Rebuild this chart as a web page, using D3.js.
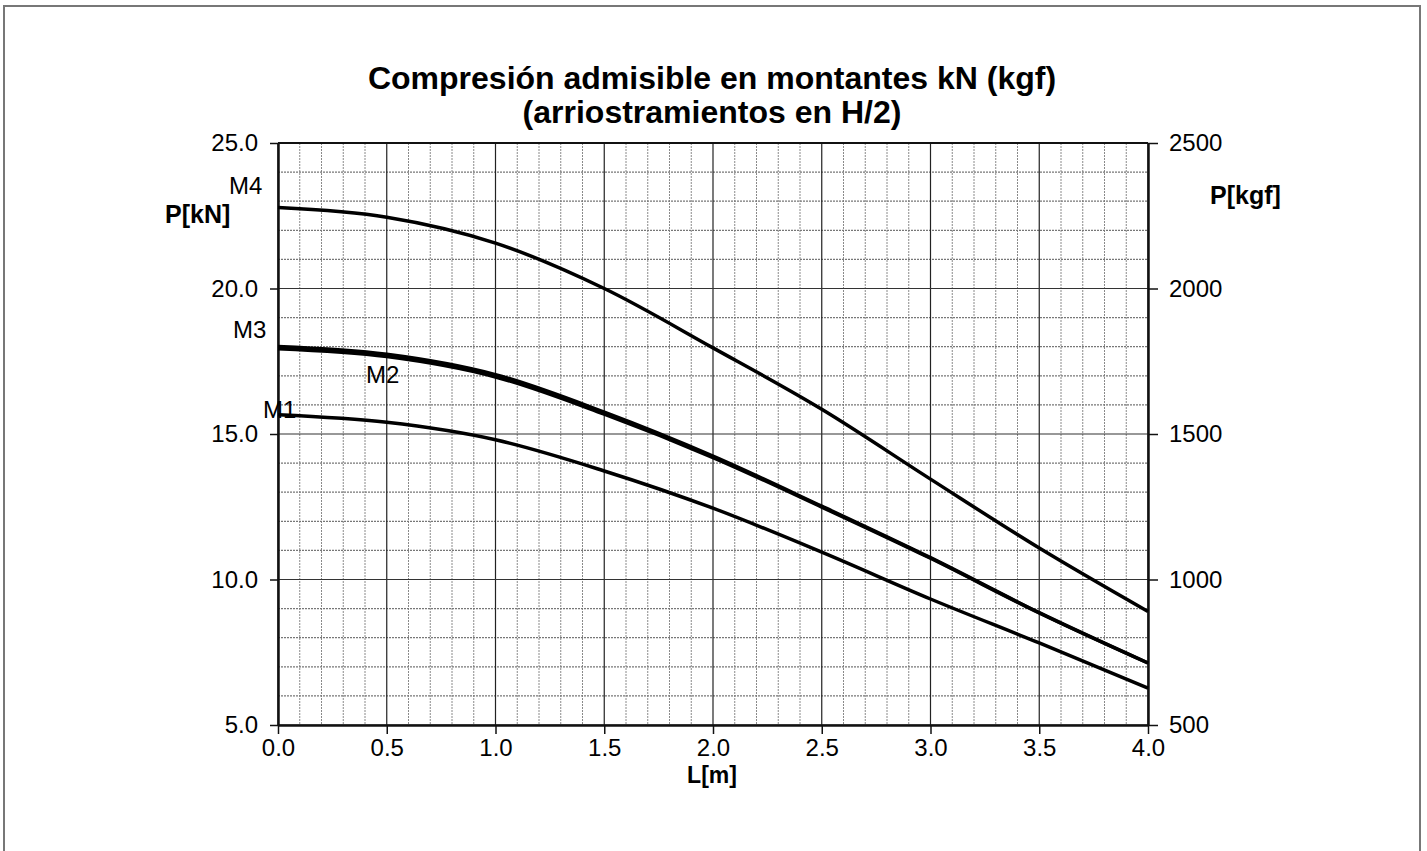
<!DOCTYPE html>
<html><head><meta charset="utf-8">
<script src="https://cdn.jsdelivr.net/npm/d3@7"></script>
<style>
body{margin:0;background:#fff;}
svg{display:block;font-family:"Liberation Sans",Arial,sans-serif;}
</style></head>
<body><svg id="c" width="1427" height="851"></svg>
<script>
const L = [0, 0.5, 1.0, 1.5, 2.0, 2.5, 3.0, 3.5, 4.0];
const M1 = [15.66, 15.40, 14.80, 13.73, 12.45, 10.94, 9.33, 7.82, 6.27];
const M2 = [17.93, 17.66, 16.96, 15.68, 14.19, 12.49, 10.73, 8.85, 7.13];
const M3 = [18.01, 17.74, 17.04, 15.75, 14.24, 12.52, 10.75, 8.86, 7.13];
const M4 = [22.78, 22.45, 21.56, 20.00, 17.96, 15.85, 13.45, 11.08, 8.90];
const seriesNames = ["M1", "M2", "M3", "M4"];
const xTicks = [0, 0.5, 1.0, 1.5, 2.0, 2.5, 3.0, 3.5, 4.0];
const yTicksKN = [5, 10, 15, 20, 25];
const yTicksKgf = [500, 1000, 1500, 2000, 2500];
const titleLines = ["Compresión admisible en montantes kN (kgf)", "(arriostramientos en H/2)"];

const svg = d3.select("#c");
const pL = 278, pR = 1148, pT = 143, pB = 725;
const x = d3.scaleLinear().domain([0, 4]).range([pL, pR]);
const y = d3.scaleLinear().domain([5, 25]).range([pB, pT]);
const y2 = d3.scaleLinear().domain([500, 2500]).range([pB, pT]);

// outer frame
svg.append("rect").attr("x", 4).attr("y", 6).attr("width", 1416).attr("height", 860)
  .attr("fill", "none").attr("stroke", "#777").attr("stroke-width", 2);

// title
svg.selectAll("text.title").data(titleLines).join("text")
  .attr("class", "title").attr("x", 712).attr("y", (d, i) => 89 + i * 34)
  .attr("text-anchor", "middle").attr("font-weight", "bold").attr("font-size", 32)
  .text(d => d);

// grid
const g = svg.append("g");
const minorX = d3.range(0, 41).map(i => i / 10).filter(v => Math.round(v * 10) % 5 !== 0);
const minorY = d3.range(5, 26).filter(v => v % 5 !== 0);
g.selectAll("line.mx").data(minorX).join("line")
  .attr("x1", d => x(d)).attr("x2", d => x(d)).attr("y1", pT).attr("y2", pB)
  .attr("stroke", "#8a8a8a").attr("stroke-width", 1).attr("stroke-dasharray", "2,1");
g.selectAll("line.my").data(minorY).join("line")
  .attr("y1", d => y(d)).attr("y2", d => y(d)).attr("x1", pL).attr("x2", pR)
  .attr("stroke", "#777").attr("stroke-width", 1.2).attr("stroke-dasharray", "2,1");
g.selectAll("line.Mx").data(xTicks).join("line")
  .attr("x1", d => x(d)).attr("x2", d => x(d)).attr("y1", pT).attr("y2", pB)
  .attr("stroke", "#222").attr("stroke-width", 1.2);
g.selectAll("line.My").data(yTicksKN).join("line")
  .attr("y1", d => y(d)).attr("y2", d => y(d)).attr("x1", pL).attr("x2", pR)
  .attr("stroke", "#333").attr("stroke-width", 1.2);

// axes
const fmt1 = d3.format(".1f");
const axL = svg.append("g").attr("transform", `translate(${pL},0)`)
  .call(d3.axisLeft(y).tickValues(yTicksKN).tickFormat(fmt1).tickSize(8).tickSizeOuter(0).tickPadding(12));
const axR = svg.append("g").attr("transform", `translate(${pR},0)`)
  .call(d3.axisRight(y2).tickValues(yTicksKgf).tickFormat(d3.format("d")).tickSize(10).tickSizeOuter(0).tickPadding(11));
const axB = svg.append("g").attr("transform", `translate(0,${pB})`)
  .call(d3.axisBottom(x).tickValues(xTicks).tickFormat(fmt1).tickSize(9).tickSizeOuter(0).tickPadding(5));
[axL, axR, axB].forEach(a => {
  a.selectAll("text").attr("font-size", 24).attr("fill", "#000").attr("font-family", "'Liberation Sans',Arial,sans-serif");
  a.selectAll("line").attr("stroke", "#111").attr("stroke-width", 1.5);
  a.select(".domain").attr("stroke", "#111").attr("stroke-width", 2.5);
});
// top border
svg.append("line").attr("x1", pL).attr("x2", pR).attr("y1", pT).attr("y2", pT)
  .attr("stroke", "#111").attr("stroke-width", 2);

// curves
const line = d3.line().x((d, i) => x(L[i])).y(d => y(d)).curve(d3.curveMonotoneX);
const series = [M1, M2, M3, M4];
svg.append("g").selectAll("path").data(series).join("path")
  .attr("d", d => line(d)).attr("fill", "none").attr("stroke", "#000")
  .attr("stroke-width", 3.5).attr("stroke-linejoin", "round");

// series labels
const labelPos = [
  {name: "M1", lx: 263, ly: 418},
  {name: "M2", lx: 366, ly: 383},
  {name: "M3", lx: 233, ly: 338},
  {name: "M4", lx: 229, ly: 194}
];
svg.selectAll("text.lab").data(labelPos).join("text")
  .attr("class", "lab").attr("x", d => d.lx).attr("y", d => d.ly)
  .attr("font-size", 24).attr("fill", "#000").text(d => d.name);

// axis titles
svg.append("text").attr("x", 165).attr("y", 223).attr("font-size", 25).attr("font-weight", "bold").text("P[kN]");
svg.append("text").attr("x", 1210).attr("y", 204).attr("font-size", 25).attr("font-weight", "bold").text("P[kgf]");
svg.append("text").attr("x", 712).attr("y", 783).attr("text-anchor", "middle").attr("font-size", 23).attr("font-weight", "bold").text("L[m]");
</script></body></html>
